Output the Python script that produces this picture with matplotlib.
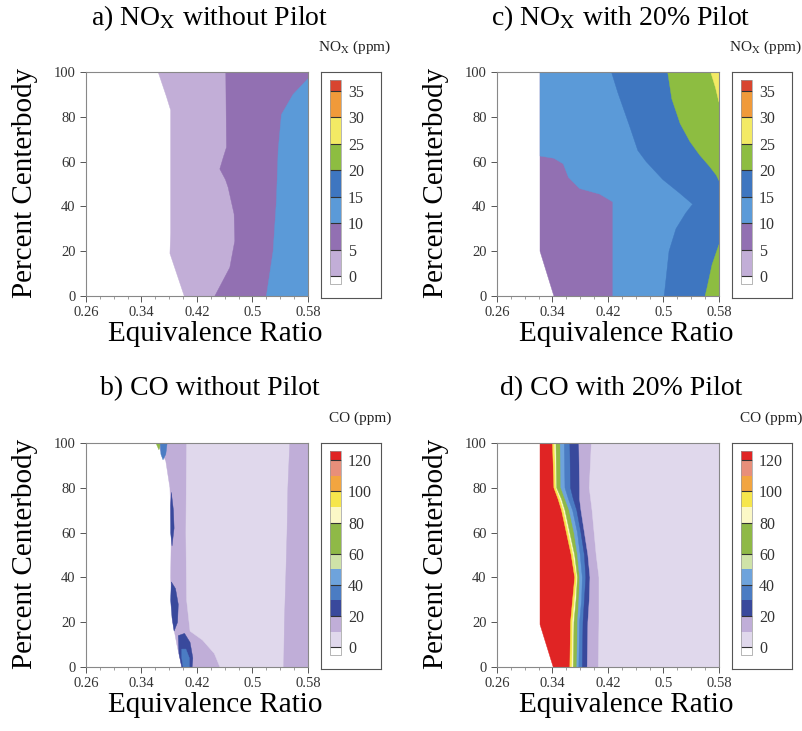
import numpy as np
import matplotlib
matplotlib.use("Agg")
import matplotlib.pyplot as plt
from matplotlib.colors import ListedColormap, BoundaryNorm
from matplotlib.cm import ScalarMappable

plt.rcParams['font.family'] = ['Liberation Serif', 'DejaVu Serif']
plt.rcParams['mathtext.fontset'] = 'stix'

# colour scales
nox_levels = [0, 5, 10, 15, 20, 25, 30, 35, 37]
nox_colors = ['#c2aed7', '#9270b2', '#5b9ad8', '#3e76c0', '#8dbd41',
              '#f3ea64', '#f09a3a', '#d8452f']
co_levels = [0, 10, 20, 30, 40, 50, 60, 70, 80, 90, 100, 110, 120, 126]
co_colors = ['#e0d8ec', '#c0aed8', '#39499c', '#4b7cc3', '#6ea3dc', '#cfe3a8',
             '#8fb947', '#8fb947', '#fbf8c6', '#f6e64c', '#f2a540', '#e88f7a',
             '#e02424']

# a) NOx without pilot: boundaries (equivalence ratio at percent centerbody)
a_white_y = [0, 19, 28, 83, 89, 100]
a_white_x = [0.4016, 0.381, 0.382, 0.382, 0.376, 0.364]
a_lp_y = [0, 12.7, 24.6, 36.6, 48.5, 52, 56.7, 62, 66.4, 100]
a_lp_x = [0.4457, 0.4673, 0.4745, 0.4735, 0.4649, 0.461, 0.4529, 0.458, 0.4625, 0.4615]
a_p_y = [0, 20, 42.5, 65, 81, 90, 97]
a_p_x = [0.520, 0.5297, 0.5345, 0.537, 0.5417, 0.5585, 0.58]

# c) NOx with 20% pilot
c_white_y = [0, 20, 100]
c_white_x = [0.342, 0.322, 0.322]
c_pu_y = [0, 42, 45.5, 48, 53, 59, 61.5, 62.5, 100]
c_pu_x = [0.427, 0.427, 0.408, 0.379, 0.363, 0.3555, 0.342, 0.322, 0.322]
c_lb_y = [0, 20, 30, 37, 41, 46, 52, 60, 65, 76, 91, 100]
c_lb_x = [0.501, 0.508, 0.518, 0.532, 0.542, 0.523, 0.499, 0.475, 0.463, 0.451, 0.434, 0.425]
c_bl_y = [51.5, 54, 58, 63, 69, 77, 88, 100]
c_bl_x = [0.58, 0.576, 0.566, 0.552, 0.538, 0.524, 0.512, 0.506]
c_gb_y = [0, 4, 14, 23]
c_gb_x = [0.560, 0.563, 0.570, 0.58]
c_ye_y = [86.5, 93, 100]
c_ye_x = [0.58, 0.575, 0.568]

# b) CO without pilot
b_white_y = [0, 10, 20, 40, 60, 80, 92, 100]
b_white_x = [0.398, 0.391, 0.385, 0.382, 0.383, 0.381, 0.375, 0.362]
b_lav_y = [0, 6, 12, 16, 30, 60, 100]
b_lav_x = [0.453, 0.445, 0.428, 0.410, 0.405, 0.404, 0.405]
b_rt_y = [0, 20, 40, 60, 80, 100]
b_rt_x = [0.545, 0.546, 0.548, 0.5498, 0.551, 0.5537]
# small islands in b)
b_islands = [
    (65, [0.3608, 0.368, 0.365], [100, 100, 97]),
    (35, [0.367, 0.377, 0.375, 0.371, 0.368], [100, 100, 95, 92.5, 95]),
    (25, [0.383, 0.386, 0.387, 0.384, 0.382, 0.382], [78, 70, 62, 54, 60, 72]),
    (25, [0.383, 0.389, 0.393, 0.392, 0.387, 0.384, 0.382], [38, 35, 28, 20, 16, 22, 30]),
    (25, [0.393, 0.402, 0.410, 0.414, 0.413, 0.398, 0.394], [14, 15, 11, 4, 0, 0, 6]),
    (35, [0.398, 0.404, 0.409, 0.409, 0.400, 0.398], [8, 8, 4, 0, 0, 4]),
]

# d) CO with 20% pilot
d_white_y = [0, 19, 100]
d_white_x = [0.341, 0.322, 0.322]
d_y = [0, 20, 30, 40, 50, 60, 70, 75, 80, 100]
d_red = [0.365, 0.366, 0.369, 0.372, 0.367, 0.360, 0.353, 0.348, 0.342, 0.340]
d_yellow = [0.368, 0.369, 0.372, 0.375, 0.370, 0.363, 0.356, 0.351, 0.345, 0.343]
d_cream = [0.370, 0.371, 0.374, 0.376, 0.372, 0.365, 0.358, 0.353, 0.346, 0.345]
d_green = [0.375, 0.376, 0.378, 0.379, 0.376, 0.371, 0.364, 0.358, 0.352, 0.351]
d_lblue = [0.378, 0.379, 0.382, 0.383, 0.380, 0.376, 0.369, 0.363, 0.358, 0.357]
d_blue = [0.383, 0.384, 0.386, 0.388, 0.386, 0.381, 0.375, 0.370, 0.366, 0.365]
d_navy = [0.390, 0.391, 0.393, 0.394, 0.391, 0.386, 0.381, 0.379, 0.379, 0.378]
d_lpurp = [0.406, 0.407, 0.407, 0.407, 0.403, 0.400, 0.397, 0.395, 0.393, 0.396]

x_ticks = [0.26, 0.34, 0.42, 0.5, 0.58]
x_ticklabels = ['0.26', '0.34', '0.42', '0.5', '0.58']
y_ticks = [0, 20, 40, 60, 80, 100]

W, H = 803, 731
fig = plt.figure(figsize=(W / 100, H / 100), dpi=100)


def frac(x0, y0, x1, y1):
    # pixel box -> figure fraction
    return [x0 / W, 1 - y1 / H, (x1 - x0) / W, (y1 - y0) / H]


def fill_right(ax, ys, xs, value, cmap, norm):
    # fill from a boundary to the right edge of the plot
    px = list(xs) + [0.58, 0.58]
    py = list(ys) + [ys[-1], ys[0]]
    c = cmap(norm(value))
    ax.fill(px, py, color=c, ec=c, lw=0.3)


def make_panel(px0, py0, levels, colors, ticks, unit):
    cmap = ListedColormap(colors).with_extremes(under='white')
    norm = BoundaryNorm(levels, cmap.N)
    ax = fig.add_axes(frac(px0, py0, px0 + 222, py0 + 224))
    ax.set_xlim(0.26, 0.58)
    ax.set_ylim(0, 100)
    ax.set_xticks(x_ticks)
    ax.set_xticklabels(x_ticklabels)
    ax.set_xticks(np.arange(0.26, 0.581, 0.02), minor=True)
    ax.set_yticks(y_ticks)
    ax.tick_params(labelsize=10.5, colors='#555', labelcolor='#333', length=4, width=0.7)
    ax.tick_params(which='minor', length=2, width=0.5, colors='#777')
    for s in ax.spines.values():
        s.set_color('#888')
        s.set_linewidth(0.8)

    # colour bar in a frame
    bx = px0 + 235
    box = fig.add_axes(frac(bx, py0, bx + 60, py0 + 226))
    box.set_xticks([])
    box.set_yticks([])
    box.set_facecolor('none')
    for s in box.spines.values():
        s.set_color('#555')
        s.set_linewidth(0.8)
    cax = fig.add_axes(frac(bx + 9, py0 + 8, bx + 20, py0 + 212))
    sm = ScalarMappable(norm=norm, cmap=cmap)
    cb = fig.colorbar(sm, cax=cax, extend='min', extendfrac=0.04, extendrect=True,
                      spacing='proportional', ticks=ticks)
    cb.outline.set_edgecolor('#999')
    cb.outline.set_linewidth(0.5)
    cax.tick_params(direction='in', length=8, width=0.8, color='#333',
                    labelsize=11.5, pad=5, labelcolor='#333')
    cax.tick_params(which='minor', length=0)
    fig.text((bx + 70) / W, 1 - (py0 - 25) / H, unit, ha='right', va='center',
             fontsize=11, color='#222')
    return ax, cmap, norm


def labels(px0, py0, title):
    fig.text((px0 + 124) / W, 1 - (py0 - 54) / H, title, ha='center', va='center',
             fontsize=20)
    fig.text((px0 + 129) / W, 1 - (py0 + 262) / H, 'Equivalence Ratio', ha='center',
             va='center', fontsize=21)
    fig.text((px0 - 61) / W, 1 - (py0 + 111) / H, 'Percent Centerbody', ha='center',
             va='center', rotation=90, fontsize=21)


nox_ticks = [0, 5, 10, 15, 20, 25, 30, 35]
co_ticks = [0, 20, 40, 60, 80, 100, 120]
nox_unit = r'NO$_\mathrm{X}$ (ppm)'
co_unit = 'CO (ppm)'

# a)
ax, cmap, norm = make_panel(86, 72, nox_levels, nox_colors, nox_ticks, nox_unit)
fill_right(ax, a_white_y, a_white_x, 2.5, cmap, norm)
fill_right(ax, a_lp_y, a_lp_x, 7.5, cmap, norm)
fill_right(ax, a_p_y, a_p_x, 12.5, cmap, norm)
labels(86, 72, r'a) NO$_\mathrm{X}$ without Pilot')

# c)
ax, cmap, norm = make_panel(497, 72, nox_levels, nox_colors, nox_ticks, nox_unit)
fill_right(ax, c_white_y, c_white_x, 7.5, cmap, norm)
fill_right(ax, c_pu_y, c_pu_x, 12.5, cmap, norm)
fill_right(ax, c_lb_y, c_lb_x, 17.5, cmap, norm)
fill_right(ax, c_bl_y, c_bl_x, 22.5, cmap, norm)
fill_right(ax, c_gb_y, c_gb_x, 22.5, cmap, norm)
fill_right(ax, c_ye_y, c_ye_x, 27.5, cmap, norm)
labels(497, 72, r'c) NO$_\mathrm{X}$ with 20% Pilot')

# b)
ax, cmap, norm = make_panel(86, 443, co_levels, co_colors, co_ticks, co_unit)
fill_right(ax, b_white_y, b_white_x, 15, cmap, norm)
fill_right(ax, b_lav_y, b_lav_x, 5, cmap, norm)
fill_right(ax, b_rt_y, b_rt_x, 15, cmap, norm)
for val, xs, ys in b_islands:
    c = cmap(norm(val))
    ax.fill(xs, ys, color=c, ec=c, lw=0.3)
labels(86, 443, 'b) CO without Pilot')

# d)
ax, cmap, norm = make_panel(497, 443, co_levels, co_colors, co_ticks, co_unit)
fill_right(ax, d_white_y, d_white_x, 125, cmap, norm)
for bound, val in [(d_red, 95), (d_yellow, 85), (d_cream, 70), (d_green, 45),
                   (d_lblue, 35), (d_blue, 25), (d_navy, 15), (d_lpurp, 5)]:
    fill_right(ax, d_y, bound, val, cmap, norm)
labels(497, 443, 'd) CO with 20% Pilot')

fig.savefig('out.png', dpi=100)
